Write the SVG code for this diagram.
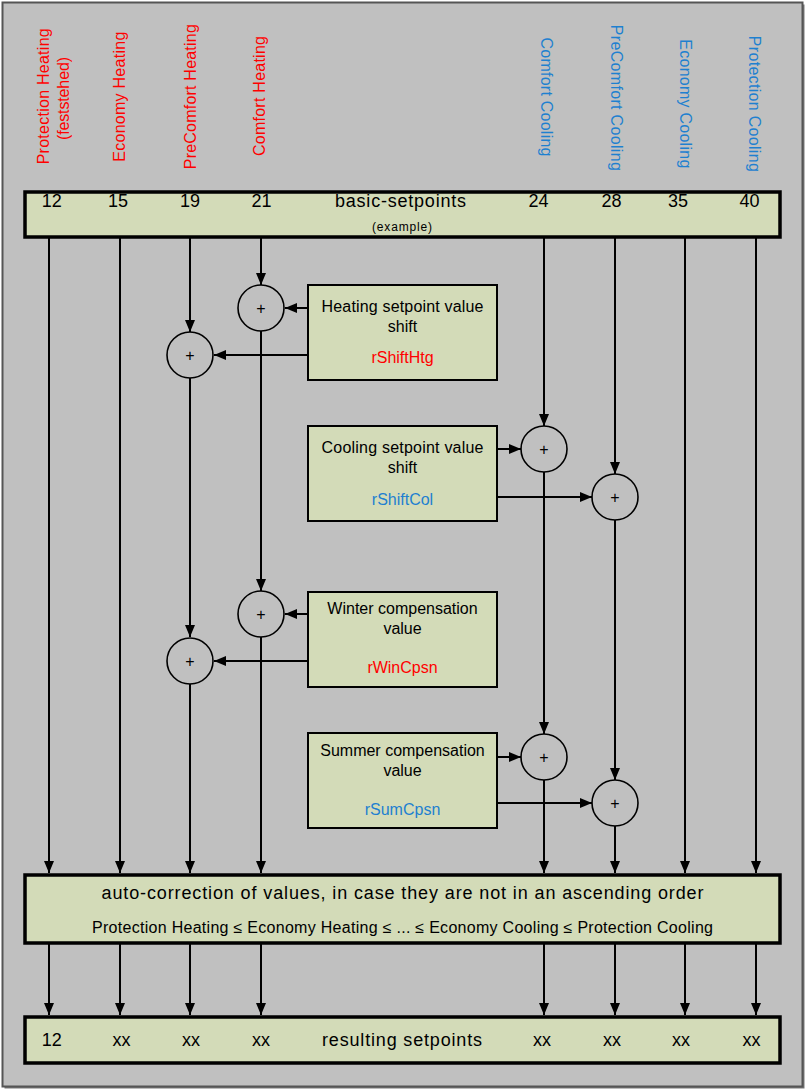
<svg xmlns="http://www.w3.org/2000/svg" width="808" height="1092" viewBox="0 0 808 1092">
<style>
text{font-family:"Liberation Sans",Arial,sans-serif;fill:#000}
.box{fill:#d3dbb8;stroke:#000;stroke-width:2}
.big{fill:#d3dbb8;stroke:#000;stroke-width:3.5}
.sum{fill:#c0c0c0;stroke:#000;stroke-width:1.6}
.c{stroke:#000;stroke-width:2;fill:none;marker-end:url(#ah)}
.lbl{font-size:16px}
.red{fill:#ff0000}
.blue{fill:#1e80d0}
.bt{font-size:16px;text-anchor:middle}
.num{font-size:18px;text-anchor:middle}
.plus{font-size:16px;text-anchor:middle}
</style>
<defs>
<marker id="ah" markerUnits="userSpaceOnUse" markerWidth="12" markerHeight="10" refX="12" refY="5" orient="auto">
<path d="M0,0 L12,5 L0,10 Z" fill="#000"/>
</marker>
</defs>
<rect x="4.5" y="4.5" width="800" height="1084" fill="#7a7a7a"/>
<rect x="2.5" y="2.5" width="800" height="1084" fill="#c0c0c0" stroke="#555" stroke-width="2"/>

<g id="labels">
<text class="lbl red" text-anchor="middle" textLength="136" transform="translate(49,96.3) rotate(-90)">Protection Heating</text>
<text class="lbl red" text-anchor="middle" textLength="83" transform="translate(69,98.5) rotate(-90)">(feststehed)</text>
<text class="lbl red" text-anchor="middle" textLength="130" transform="translate(125,96.7) rotate(-90)">Economy Heating</text>
<text class="lbl red" text-anchor="middle" textLength="145" transform="translate(196,96.7) rotate(-90)">PreComfort Heating</text>
<text class="lbl red" text-anchor="middle" textLength="120" transform="translate(265,96) rotate(-90)">Comfort Heating</text>
<text class="lbl blue" text-anchor="middle" textLength="119" transform="translate(540.5,97) rotate(90)">Comfort Cooling</text>
<text class="lbl blue" text-anchor="middle" textLength="146" transform="translate(610.5,97.8) rotate(90)">PreComfort Cooling</text>
<text class="lbl blue" text-anchor="middle" textLength="129" transform="translate(679.5,103.8) rotate(90)">Economy Cooling</text>
<text class="lbl blue" text-anchor="middle" textLength="136" transform="translate(748.5,103.8) rotate(90)">Protection Cooling</text>
</g>

<g id="basic">
<rect class="big" x="25" y="192" width="755" height="45"/>
<text class="num" x="51.7" y="207">12</text>
<text class="num" x="118" y="207">15</text>
<text class="num" x="190" y="207">19</text>
<text class="num" x="261.5" y="207">21</text>
<text class="num" x="400.5" y="207" textLength="131">basic-setpoints</text>
<text class="num" x="538.5" y="207">24</text>
<text class="num" x="611.5" y="207">28</text>
<text class="num" x="678" y="207">35</text>
<text class="num" x="749.5" y="207">40</text>
<text x="402" y="231" font-size="12" text-anchor="middle" textLength="60">(example)</text>
</g>

<g id="connectors">
<path class="c" d="M49,238 V873"/>
<path class="c" d="M120,238 V873"/>
<path class="c" d="M190,238 V332"/>
<path class="c" d="M190,378 V637"/>
<path class="c" d="M190,683 V873"/>
<path class="c" d="M261,238 V285"/>
<path class="c" d="M261,331 V591"/>
<path class="c" d="M261,637 V873"/>
<path class="c" d="M544,238 V426"/>
<path class="c" d="M544,472 V734"/>
<path class="c" d="M544,780 V873"/>
<path class="c" d="M615,238 V474"/>
<path class="c" d="M615,520 V780"/>
<path class="c" d="M615,826 V873"/>
<path class="c" d="M685,238 V873"/>
<path class="c" d="M756,238 V873"/>
<path class="c" d="M308,308 H285"/>
<path class="c" d="M308,355 H214"/>
<path class="c" d="M497,449 H521"/>
<path class="c" d="M497,497 H592"/>
<path class="c" d="M308,614 H285"/>
<path class="c" d="M308,661 H214"/>
<path class="c" d="M497,757 H521"/>
<path class="c" d="M497,803 H592"/>
<path class="c" d="M49,944 V1015"/>
<path class="c" d="M120,944 V1015"/>
<path class="c" d="M190,944 V1015"/>
<path class="c" d="M261,944 V1015"/>
<path class="c" d="M544,944 V1015"/>
<path class="c" d="M615,944 V1015"/>
<path class="c" d="M685,944 V1015"/>
<path class="c" d="M756,944 V1015"/>
</g>

<g id="sum1"><circle class="sum" cx="261" cy="308" r="23"/><text class="plus" x="261" y="313.5">+</text></g>
<g id="sum2"><circle class="sum" cx="190" cy="355" r="23"/><text class="plus" x="190" y="360.5">+</text></g>
<g id="sum3"><circle class="sum" cx="544" cy="449" r="23"/><text class="plus" x="544" y="454.5">+</text></g>
<g id="sum4"><circle class="sum" cx="615" cy="497" r="23"/><text class="plus" x="615" y="502.5">+</text></g>
<g id="sum5"><circle class="sum" cx="261" cy="614" r="23"/><text class="plus" x="261" y="619.5">+</text></g>
<g id="sum6"><circle class="sum" cx="190" cy="661" r="23"/><text class="plus" x="190" y="666.5">+</text></g>
<g id="sum7"><circle class="sum" cx="544" cy="757" r="23"/><text class="plus" x="544" y="762.5">+</text></g>
<g id="sum8"><circle class="sum" cx="615" cy="803" r="23"/><text class="plus" x="615" y="808.5">+</text></g>

<g id="heatshift">
<rect class="box" x="308" y="285" width="189" height="95"/>
<text class="bt" x="402.5" y="312" textLength="162">Heating setpoint value</text>
<text class="bt" x="402.5" y="332">shift</text>
<text class="bt red" x="402.5" y="363">rShiftHtg</text>
</g>
<g id="coolshift">
<rect class="box" x="308" y="426" width="189" height="95"/>
<text class="bt" x="402.5" y="453" textLength="162">Cooling setpoint value</text>
<text class="bt" x="402.5" y="473">shift</text>
<text class="bt blue" x="402.5" y="505">rShiftCol</text>
</g>
<g id="winter">
<rect class="box" x="308" y="592" width="189" height="95"/>
<text class="bt" x="402.5" y="614">Winter compensation</text>
<text class="bt" x="402.5" y="634">value</text>
<text class="bt red" x="402.5" y="673">rWinCpsn</text>
</g>
<g id="summer">
<rect class="box" x="308" y="733" width="189" height="95"/>
<text class="bt" x="402.5" y="756">Summer compensation</text>
<text class="bt" x="402.5" y="776">value</text>
<text class="bt blue" x="402.5" y="815">rSumCpsn</text>
</g>

<g id="autocorr">
<rect class="big" x="25" y="875" width="755" height="68"/>
<text x="402.5" y="899" font-size="18" text-anchor="middle" textLength="602">auto-correction of values, in case they are not in an ascending order</text>
<text x="402.5" y="933" font-size="16" text-anchor="middle" textLength="621">Protection Heating ≤ Economy Heating ≤ ... ≤ Economy Cooling ≤ Protection Cooling</text>
</g>

<g id="result">
<rect class="big" x="25" y="1017" width="755" height="46"/>
<text class="num" x="51.7" y="1046">12</text>
<text class="num" x="121.5" y="1046">xx</text>
<text class="num" x="191" y="1046">xx</text>
<text class="num" x="261" y="1046">xx</text>
<text class="num" x="402" y="1046" textLength="160">resulting setpoints</text>
<text class="num" x="542" y="1046">xx</text>
<text class="num" x="612" y="1046">xx</text>
<text class="num" x="681" y="1046">xx</text>
<text class="num" x="751.5" y="1046">xx</text>
</g>
</svg>
